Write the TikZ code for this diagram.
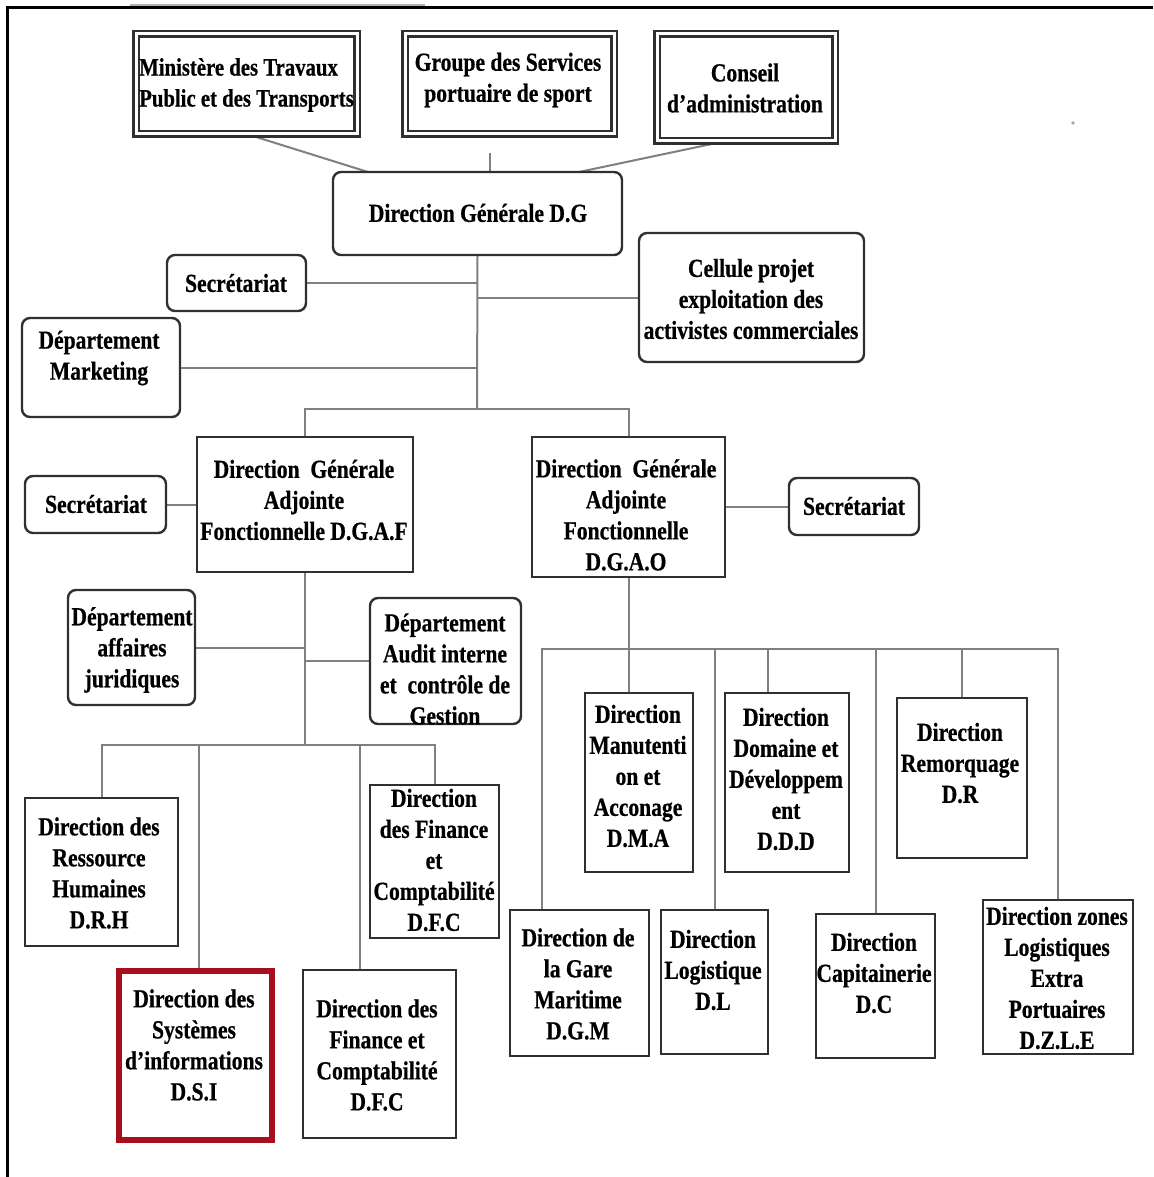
\documentclass[tikz,border=0pt]{standalone}
\usepackage{fontspec}
\setmainfont{Liberation Serif}[FakeStretch=0.83, BoldFeatures={FakeBold=0.6}]
\pgfdeclarelayer{background}
\pgfsetlayers{background,main}
\definecolor{boxline}{HTML}{303030}
\definecolor{linkgray}{HTML}{808080}
\definecolor{dsired}{HTML}{A5101C}
\newcommand\placebox[6]{\node[#1, minimum width={#4-#2}, minimum height={#5-#3}] (#6) at ({(#2+#4)/2},{(#3+#5)/2}) {};}
\begin{document}
\begin{tikzpicture}[x=1pt,y=-1pt,
  box/.style={draw=boxline, line width=2.4pt, fill=white, inner sep=0pt, outer sep=0pt},
  rbox/.style={box, rounded corners=8pt},
  dbox/.style={draw=boxline, double=white, double distance=3pt, line width=2.2pt, fill=white, inner sep=0pt, outer sep=0pt},
  redbox/.style={draw=dsired, line width=6.5pt, fill=white, inner sep=0pt, outer sep=0pt},
  lbl/.style={font=\bfseries\fontsize{26}{31}\selectfont, align=center, inner sep=0pt, text=black, yshift=2pt},
  link/.style={draw=linkgray, line width=2pt}]
\useasboundingbox (0,0) rectangle (1153,1177);

% outer frame
\draw[line width=3pt, black] (7.5,1177) -- (7.5,8) -- (1153,8);
\draw[line width=1.4pt, black!30] (130,5) -- (425,5);
\fill[black!35] (1073,123) circle (1.8);

% supervising bodies
\placebox{dbox}{136}{34}{357}{134}{min}
\placebox{dbox}{405}{34}{614}{134}{grp}
\placebox{dbox}{657}{34}{835}{141}{cons}

% general direction and its staff units
\placebox{rbox}{333}{172}{622}{255}{dg}
\placebox{rbox}{167}{255}{306}{311}{sec1}
\placebox{rbox}{639}{233}{864}{362}{cell}
\placebox{rbox}{22}{318}{180}{417}{mkt}

% deputy directions
\placebox{box}{197}{437}{413}{572}{dgaf}
\placebox{rbox}{25}{476}{166}{533}{sec2}
\placebox{box}{532}{437}{725}{577}{dgao}
\placebox{rbox}{789}{478}{919}{535}{sec3}

% functional branch
\placebox{rbox}{68}{590}{195}{705}{jur}
\placebox{rbox}{370}{598}{521}{724}{audit}
\placebox{box}{25}{798}{178}{946}{drh}
\placebox{redbox}{119}{971}{272}{1140}{dsi}
\placebox{box}{370}{785}{499}{938}{dfc1}
\placebox{box}{303}{970}{456}{1138}{dfc2}

% operational branch
\placebox{box}{585}{693}{693}{872}{dma}
\placebox{box}{725}{693}{849}{872}{ddd}
\placebox{box}{897}{698}{1027}{858}{dr}
\placebox{box}{510}{910}{649}{1056}{dgm}
\placebox{box}{661}{910}{768}{1054}{dl}
\placebox{box}{816}{914}{935}{1058}{dc}
\placebox{box}{983}{900}{1133}{1054}{dzle}

% connectors, kept beneath the boxes
\begin{pgfonlayer}{background}
\fill[white] (0,0) rectangle (1153,1177);
\draw[link] (min.south) -- ([xshift=35]dg.north west);
\coordinate (grpfoot) at (490,153);
\draw[link] (grpfoot) -- (grpfoot |- dg.north);
\draw[link] ([xshift=-20]cons.south) -- ([xshift=-43]dg.north east);

\coordinate (busA) at (477,409);
\draw[link] (dg.south) -- (busA);
\draw[link] (sec1.east) -- (sec1.east -| dg.south);
\draw[link] (cell.west) -- (cell.west -| dg.south);
\draw[link] (mkt.east) -- (mkt.east -| dg.south);
\draw[link] (dgaf.north) |- (busA) -| (dgao.north);
\draw[link] (sec2) -- (dgaf);
\draw[link] (dgao.east) -- (dgao.east -| sec3.west);

\coordinate (busB) at (305,745);
\draw[link] (dgaf.south) -- (busB);
\draw[link] (jur.east) -- (jur.east -| dgaf.south);
\draw[link] (audit.west) -- (audit.west -| dgaf.south);
\draw[link] (drh.north) |- (busB) -| (dfc1.north);
\coordinate (dsitop) at ([xshift=3]dsi.north);
\draw[link] (dsitop) -- (dsitop |- busB);
\coordinate (dfc2top) at ([xshift=-20]dfc2.north);
\draw[link] (dfc2top) -- (dfc2top |- busB);

\coordinate (busC) at (629,649);
\draw[link] (dgao.south) -- (dgao.south |- dma.north);
\coordinate (dgmtop) at ([xshift=-37.5]dgm.north);
\coordinate (dddtop) at ([xshift=-19]ddd.north);
\draw[link] (dgmtop) |- (busC) -| (dzle.north);
\draw[link] (dl.north) -- (dl.north |- busC);
\draw[link] (dddtop) -- (dddtop |- busC);
\draw[link] (dc.north) -- (dc.north |- busC);
\draw[link] (dr.north) -- (dr.north |- busC);
\end{pgfonlayer}

% labels
\node[lbl, font=\bfseries\fontsize{25}{31}\selectfont, align=left, anchor=west] (t-min) at (139,87) {Ministère des Travaux\\Public et des Transports};
\node[lbl] (t-grp) at (508,82) {Groupe des Services\\portuaire de sport};
\node[lbl] (t-cons) at (745,90) {Conseil\\d’administration};
\node[lbl] (t-dg) at (478,215) {Direction Générale D.G};
\node[lbl] (t-sec1) at (236,285) {Secrétariat};
\node[lbl] (t-cell) at (751,301) {Cellule projet\\exploitation des\\activistes commerciales};
\node[lbl] (t-mkt) at (99,360) {Département\\Marketing};
\node[lbl] (t-dgaf) at (304,502) {Direction~ Générale\\Adjointe\\Fonctionnelle D.G.A.F};
\node[lbl] (t-sec2) at (96,506) {Secrétariat};
\node[lbl] (t-dgao) at (626,517) {Direction~ Générale\\Adjointe\\Fonctionnelle\\D.G.A.O};
\node[lbl] (t-sec3) at (854,508) {Secrétariat};
\node[lbl] (t-jur) at (132,652) {Département\\affaires\\juridiques};
\node[lbl] (t-audit) at (445,671) {Département\\Audit interne\\et~ contrôle de\\Gestion};
\node[lbl] (t-drh) at (99,875) {Direction des\\Ressource\\Humaines\\D.R.H};
\node[lbl] (t-dsi) at (194,1047) {Direction des\\Systèmes\\d’informations\\D.S.I};
\node[lbl] (t-dfc1) at (434,862) {Direction\\des Finance\\et\\Comptabilité\\D.F.C};
\node[lbl] (t-dfc2) at (377,1057) {Direction des\\Finance et\\Comptabilité\\D.F.C};
\node[lbl] (t-dma) at (638,778) {Direction\\Manutenti\\on et\\Acconage\\D.M.A};
\node[lbl] (t-ddd) at (786,781) {Direction\\Domaine et\\Développem\\ent\\D.D.D};
\node[lbl] (t-dr) at (960,765) {Direction\\Remorquage\\D.R};
\node[lbl] (t-dgm) at (578,986) {Direction de\\la Gare\\Maritime\\D.G.M};
\node[lbl] (t-dl) at (713,972) {Direction\\Logistique\\D.L};
\node[lbl] (t-dc) at (874,975) {Direction\\Capitainerie\\D.C};
\node[lbl] (t-dzle) at (1057,980) {Direction zones\\Logistiques\\Extra\\Portuaires\\D.Z.L.E};
\end{tikzpicture}
\end{document}
